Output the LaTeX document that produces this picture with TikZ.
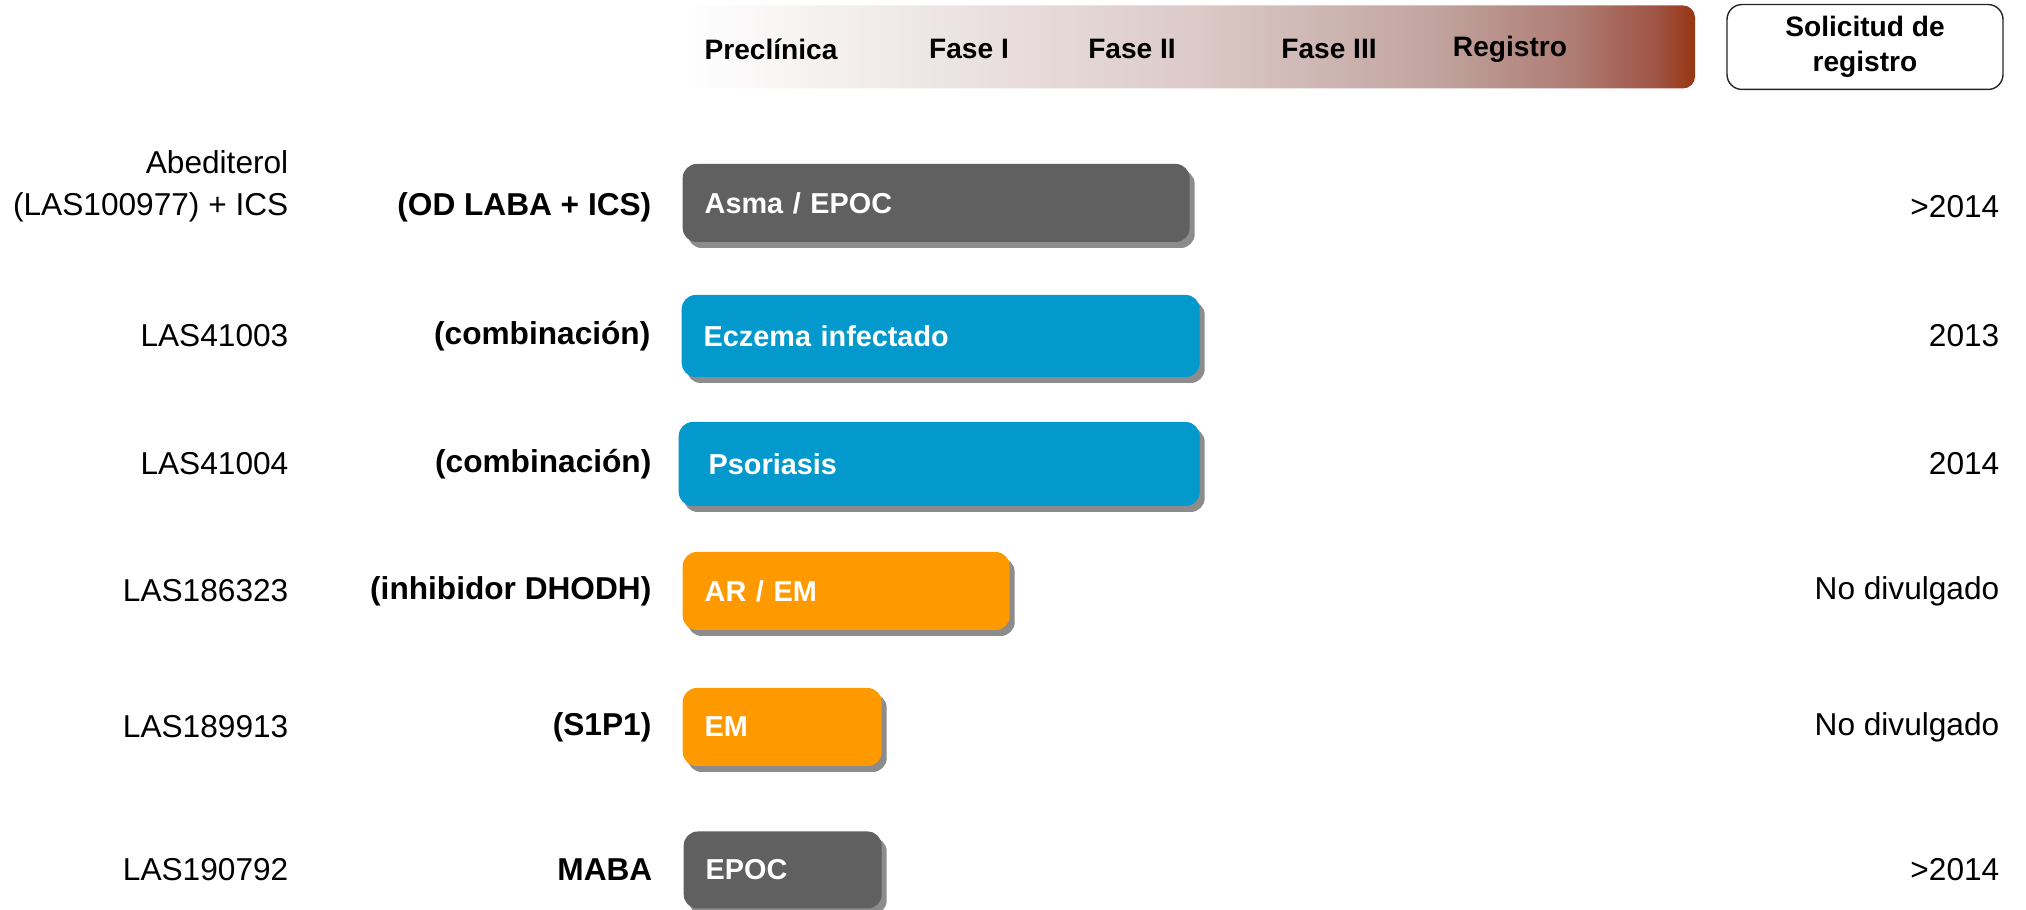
\documentclass[tikz,border=0pt]{standalone}
\usepackage{fontspec}
\setmainfont{Liberation Sans}
\usetikzlibrary{positioning,shapes,shadows}

\definecolor{epocgrey}{HTML}{606060}
\definecolor{dermblue}{HTML}{0399CC}
\definecolor{inflorange}{HTML}{FF9900}
\definecolor{phA}{HTML}{EEE6E6}
\definecolor{phB}{HTML}{DCCBC9}
\definecolor{phC}{HTML}{C2A5A0}
\definecolor{phD}{HTML}{AE7C74}
\definecolor{phE}{HTML}{A05546}
\definecolor{phF}{HTML}{973510}
\pgfdeclarehorizontalshading{phaseshade}{100bp}{color(0bp)=(white); color(25bp)=(white);
  color(37bp)=(phA); color(50bp)=(phB); color(62bp)=(phC); color(69bp)=(phD);
  color(73bp)=(phE); color(75bp)=(phF); color(100bp)=(phF)}

\begin{document}
\begin{tikzpicture}[
    node distance=0.3cm,
    drug/.style={%
      font=\fontsize{9}{12}\selectfont, align=right, inner xsep=0pt, inner ysep=2pt
    },
    mech/.style={%
      font=\fontsize{9}{11}\selectfont\bfseries, inner xsep=0pt
    },
    bar/.style={%
      rectangle, rounded corners=0.14cm, anchor=west, align=left, text=white,
      font=\fontsize{8.2}{10}\selectfont\bfseries, inner xsep=0.22cm,
      minimum height=0.78cm,
      drop shadow={shadow xshift=0.05cm, shadow yshift=-0.06cm, fill=black!45, opacity=1}
    },
    ph/.style={%
      font=\fontsize{8}{10}\selectfont\bfseries, inner sep=0pt
    },
    solbox/.style={%
      rectangle, draw=black!85, rounded corners=0.15cm, fill=white,
      minimum width=2.76cm, minimum height=0.82cm, align=center,
      font=\fontsize{8}{10}\selectfont\bfseries
    }
]
    \useasboundingbox (0,0) rectangle (20.26,-9.10);

    % fases
    \node[rectangle, rounded corners=0.12cm, shading=phaseshade, minimum width=10.13cm,
          minimum height=0.83cm, inner sep=0pt] (phase) at (11.885,-0.47) {};
    \node[ph] (pre)  at (7.71,-0.49)  {Preclínica};
    \node[ph] (f1)   at (9.69,-0.49)  {Fase I};
    \node[ph] (f2)   at (11.32,-0.49) {Fase II};
    \node[ph] (f3)   at (13.29,-0.49) {Fase III};
    \node[ph] (reg)  at (15.10,-0.49) {Registro};
    \node[solbox] (sol) at (18.65,-0.47) {Solicitud de\\registro};

    % barras
    \node[bar, fill=epocgrey, text width=4.63cm] (b1) at (6.82,-2.03) {Asma / EPOC};
    \node[bar, fill=dermblue, text width=4.74cm, minimum height=0.82cm] (b2) at (6.81,-3.36) {Eczema infectado};
    \node[bar, fill=dermblue, inner xsep=0.3cm, text width=4.61cm, minimum height=0.84cm] (b3) at (6.78,-4.64) {Psoriasis};
    \node[bar, fill=inflorange, text width=2.83cm] (b4) at (6.82,-5.91) {AR / EM};
    \node[bar, fill=inflorange, text width=1.55cm] (b5) at (6.82,-7.27) {EM};
    \node[bar, fill=epocgrey, text width=1.54cm, minimum height=0.77cm] (b6) at (6.83,-8.70) {EPOC};

    % mecanismo
    \node[mech] (m1) [left = of b1, yshift=-0.04cm] {(OD LABA + ICS)};
    \node[mech] (m2) [left = of b2] {(combinación)};
    \node[mech] (m3) [left = 0.26cm of b3] {(combinación)};
    \node[mech] (m4) [left = of b4] {(inhibidor DHODH)};
    \node[mech] (m5) [left = of b5] {(S1P1)};
    \node[mech] (m6) [left = of b6] {MABA};

    % compuestos
    \node[drug] (d1) [left = 3.93cm of b1, yshift=0.17cm] {Abediterol\\(LAS100977) + ICS};
    \node[drug] (d2) [left = 3.92cm of b2] {LAS41003};
    \node[drug] (d3) [left = 3.89cm of b3] {LAS41004};
    \node[drug] (d4) [left = 3.93cm of b4] {LAS186323};
    \node[drug] (d5) [left = 3.93cm of b5] {LAS189913};
    \node[drug] (d6) [left = 3.94cm of b6] {LAS190792};

    % solicitud
    \coordinate (rx) at (20.0,0);
    \node[drug, anchor=east] (y1) at ([yshift=-0.04cm]rx |- b1) {>2014};
    \node[drug, anchor=east] (y2) at (rx |- b2) {2013};
    \node[drug, anchor=east] (y3) at (rx |- b3) {2014};
    \node[drug, anchor=east] (y4) at (rx |- b4) {No divulgado};
    \node[drug, anchor=east] (y5) at (rx |- b5) {No divulgado};
    \node[drug, anchor=east] (y6) at (rx |- b6) {>2014};

\end{tikzpicture}
\end{document}
